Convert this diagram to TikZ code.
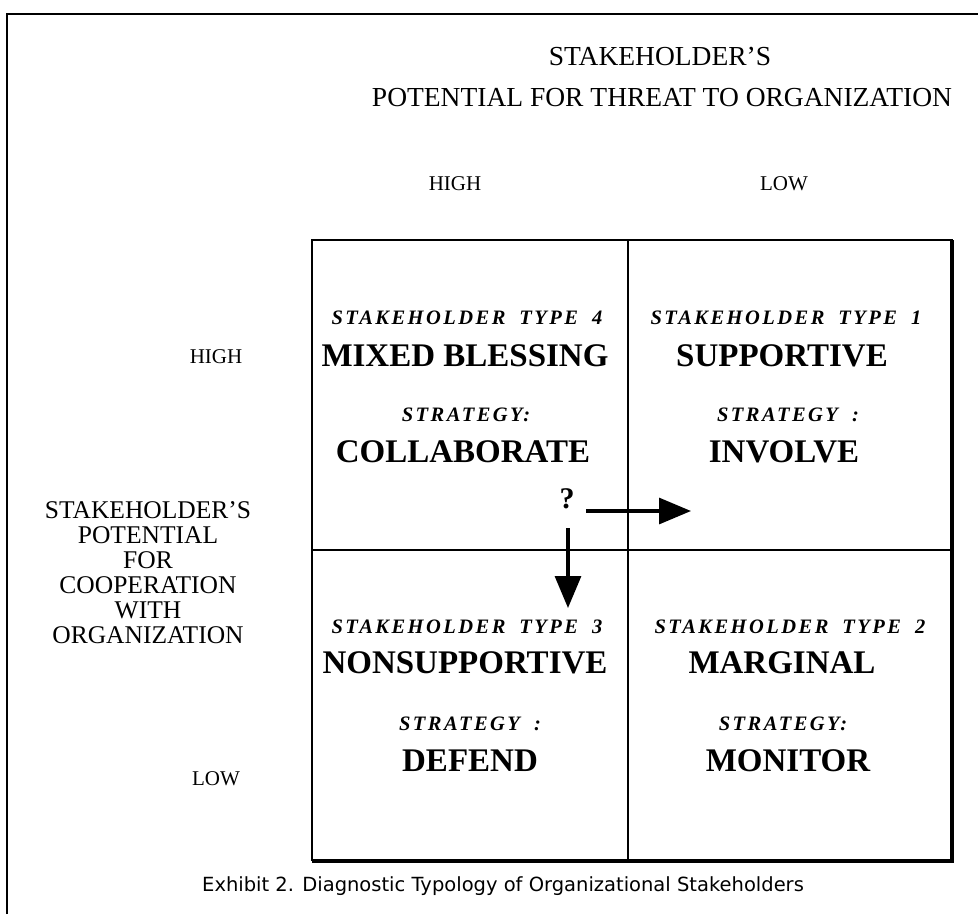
\documentclass[tikz,border=0pt]{standalone}
\usepackage{fontspec}
\setmainfont{Liberation Serif}
\newfontfamily\spacedfont[LetterSpace=12]{Liberation Serif}
\newfontfamily\capfont{DejaVu Sans}
\usetikzlibrary{arrows.meta}
\newcommand{\wg}{\hspace{14pt}}
\begin{document}
\begin{tikzpicture}[x=1pt,y=-1pt,
  axis/.style={font=\fontsize{27.5}{27.5}\selectfont},
  typelbl/.style={font=\spacedfont\bfseries\itshape\fontsize{20.5}{20.5}\selectfont},
  namelbl/.style={font=\bfseries\fontsize{33}{33}\selectfont},
  stratlbl/.style={font=\spacedfont\bfseries\itshape\fontsize{20.5}{20.5}\selectfont},
  sidelbl/.style={font=\fontsize{21}{21}\selectfont},
  grid/.style={line width=2.2pt},
  bigarrow/.style={line width=3.2pt,-{Triangle[length=32pt,width=26pt]}}]
\useasboundingbox (0,0) rectangle (978,914);
\fill[white] (0,0) rectangle (978,914);
% outer frame
\draw[line width=2pt] (7,914) -- (7,14) -- (978,14);
% grid
\draw[grid] (312,240) rectangle (952,860);
\draw[line width=3.5pt] (952,240) -- (952,861) -- (312,861);
\draw[grid] (628,240) -- (628,860);
\draw[grid] (312,550) -- (952,550);
% top labels
\node[axis] (t1) at (660,56) {STAKEHOLDER'S};
\node[axis] (t2) at (662,98) {POTENTIAL FOR THREAT TO ORGANIZATION};
\node[sidelbl] (hi) at (455,184) {HIGH};
\node[sidelbl] (lo) at (784,184) {LOW};
% side labels
\node[sidelbl] (lhi) at (216,357) {HIGH};
\node[sidelbl] (llo) at (216,779) {LOW};
\node[align=center,font=\fontsize{25.5}{25}\selectfont] (side) at (148,573)
 {STAKEHOLDER'S\\POTENTIAL\\FOR\\COOPERATION\\WITH\\ORGANIZATION};
% quadrant TL
\node[typelbl] (q4t) at (467,318) {STAKEHOLDER\wg TYPE\wg 4};
\node[namelbl] (q4n) at (465,356) {MIXED BLESSING};
\node[stratlbl] (q4s) at (466,415) {STRATEGY:};
\node[namelbl] (q4a) at (463,452) {COLLABORATE};
% quadrant TR
\node[typelbl] (q1t) at (786,318) {STAKEHOLDER\wg TYPE\wg 1};
\node[namelbl] (q1n) at (782,356) {SUPPORTIVE};
\node[stratlbl] (q1s) at (788,415) {STRATEGY\wg :};
\node[namelbl] (q1a) at (784,452) {INVOLVE};
% quadrant BL
\node[typelbl] (q3t) at (467,627) {STAKEHOLDER\wg TYPE\wg 3};
\node[namelbl] (q3n) at (465,663) {NONSUPPORTIVE};
\node[stratlbl] (q3s) at (470,724) {STRATEGY\wg :};
\node[namelbl] (q3a) at (470,761) {DEFEND};
% quadrant BR
\node[typelbl] (q2t) at (790,627) {STAKEHOLDER\wg TYPE\wg 2};
\node[namelbl] (q2n) at (782,663) {MARGINAL};
\node[stratlbl] (q2s) at (783,724) {STRATEGY:};
\node[namelbl] (q2a) at (788,761) {MONITOR};
% question and arrows
\node[font=\bfseries\fontsize{30}{30}\selectfont,inner sep=0pt] (q) at (567,499) {?};
\coordinate (hs) at (586,511);
\coordinate (he) at (691,511);
\coordinate (vs) at (568,528);
\coordinate (ve) at (568,608);
\draw[bigarrow] (hs) -- (he);
\draw[bigarrow] (vs) -- (ve);
% caption
\node[font=\capfont\fontsize{19.5}{19.5}\selectfont] (cap) at (503,886)
 {Exhibit 2. Diagnostic Typology of Organizational Stakeholders};
\end{tikzpicture}
\end{document}
